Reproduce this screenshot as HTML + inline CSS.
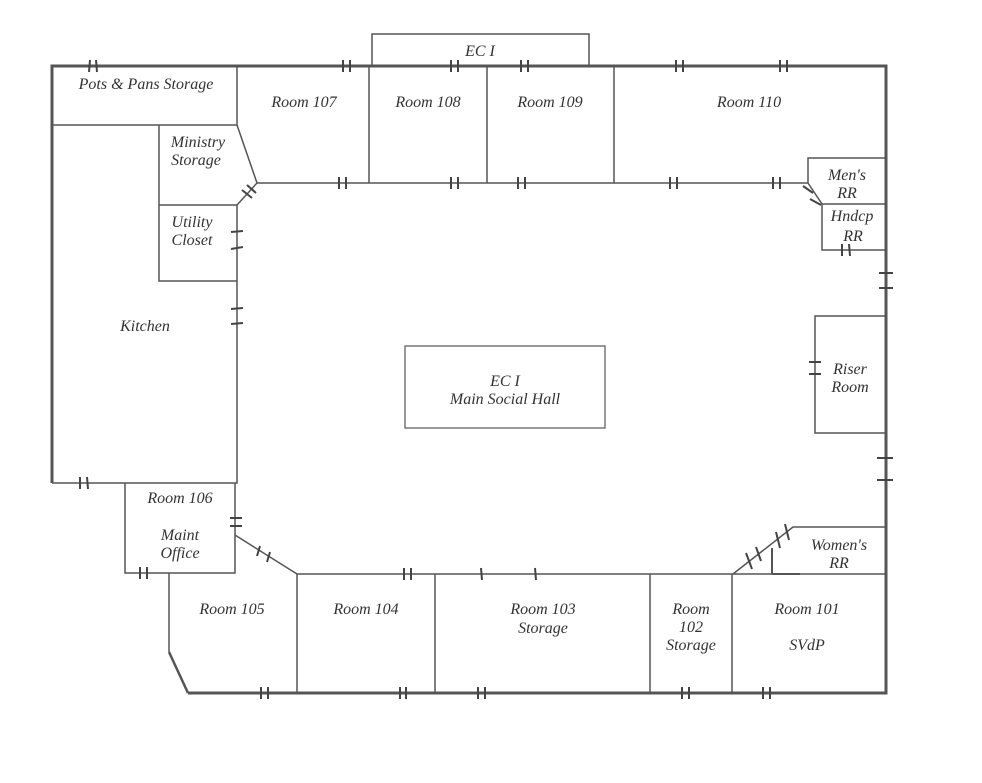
<!DOCTYPE html>
<html><head><style>
html,body{margin:0;padding:0;background:#fff;}
svg{display:block;}
text{font-family:"Liberation Serif",serif;font-style:italic;font-size:16px;fill:#333;text-anchor:middle;}
</style></head><body>
<svg width="982" height="783" viewBox="0 0 982 783" xmlns="http://www.w3.org/2000/svg">
<g stroke="#555" fill="none" stroke-width="1.5">
<path d="M52,483 L52,66 L886,66 L886,693 L188,693" stroke-width="3"/>
<path d="M188,693 L169,652" stroke-width="2.5"/>
<path d="M372,66 L372,34 L589,34 L589,66"/>
<path d="M52,125 L237,125 M237,66 L237,125 L257,183 L237,205 L237,483 L52,483"/>
<path d="M159,125 L159,281 L237,281 M159,205 L237,205"/>
<path d="M369,66 L369,183 M487,66 L487,183 M614,66 L614,183 M257,183 L808,183"/>
<path d="M808,183 L808,158 L886,158 M808,183 L822,204 L822,250 L886,250 M822,204 L886,204"/>
<path d="M886,316 L815,316 L815,433 L886,433"/>
<path d="M733,574 L793,527 L886,527 M733,574 L886,574"/>
<path d="M772,574 L772,548 M772,574 L800,574" stroke-width="2"/>
<path d="M125,483 L125,573 L235,573 L235,483 M235,535 L297,574 L733,574"/>
<path d="M169,573 L169,652"/>
<path d="M297,574 L297,693 M435,574 L435,693 M650,574 L650,693 M732,574 L732,693"/>
<rect x="405" y="346" width="200" height="82" stroke-width="1.2"/>
</g>
<g stroke="#444" stroke-width="2">
<path d="M90,60 L89,72 M96,60 L97,72"/>
<path d="M343,60 L343,72 M350,60 L350,72"/>
<path d="M451,60 L451,72 M458,60 L458,72"/>
<path d="M521,60 L521,72 M528,60 L528,72"/>
<path d="M676,60 L676,72 M683,60 L683,72"/>
<path d="M780,60 L780,72 M787,60 L787,72"/>
<path d="M339,177 L339,189 M346,177 L346,189"/>
<path d="M451,177 L451,189 M458,177 L458,189"/>
<path d="M518,177 L518,189 M525,177 L525,189"/>
<path d="M670,177 L670,189 M677,177 L677,189"/>
<path d="M773,177 L773,189 M780,177 L780,189"/>
<path d="M242,190 L252,198 M247,185 L256,193"/>
<path d="M231,232 L243,231 M231,249 L243,247"/>
<path d="M231,309 L243,308 M231,324 L243,323"/>
<path d="M80,477 L80,489 M87,477 L88,489"/>
<path d="M230,518 L242,518 M230,526 L242,526"/>
<path d="M260,546 L257,556 M270,552 L267,562"/>
<path d="M140,567 L140,579 M147,567 L147,579"/>
<path d="M404,568 L404,580 M411,568 L411,580"/>
<path d="M481,568 L482,580 M535,568 L536,580"/>
<path d="M261,687 L261,699 M268,687 L268,699"/>
<path d="M400,687 L400,699 M406,687 L406,699"/>
<path d="M478,687 L478,699 M485,687 L485,699"/>
<path d="M682,687 L682,699 M689,687 L689,699"/>
<path d="M763,687 L763,699 M770,687 L770,699"/>
<path d="M803,186 L813,193 M810,199 L821,205"/>
<path d="M842,244 L842,256 M849,244 L850,256"/>
<path d="M879,273 L893,273 M879,288 L893,288"/>
<path d="M809,362 L821,362 M809,374 L821,374"/>
<path d="M877,458 L893,458 M877,480 L893,480"/>
<path d="M746,553 L752,569 M756,547 L761,561 M776,532 L780,548 M785,524 L789,540"/>
</g>
<text x="146" y="89">Pots &amp; Pans Storage</text>
<text x="304" y="107">Room 107</text>
<text x="428" y="107">Room 108</text>
<text x="550" y="107">Room 109</text>
<text x="749" y="107">Room 110</text>
<text x="480" y="56">EC I</text>
<text x="198" y="147">Ministry</text>
<text x="196" y="165">Storage</text>
<text x="192" y="227">Utility</text>
<text x="192" y="245">Closet</text>
<text x="145" y="331">Kitchen</text>
<text x="847" y="180" font-size="14.5">Men's</text>
<text x="847" y="198" font-size="14.5">RR</text>
<text x="852" y="221" font-size="13.5">Hndcp</text>
<text x="853" y="241" font-size="14.5">RR</text>
<text x="850" y="374">Riser</text>
<text x="850" y="392">Room</text>
<text x="505" y="386">EC I</text>
<text x="505" y="404">Main Social Hall</text>
<text x="839" y="550">Women's</text>
<text x="839" y="568">RR</text>
<text x="180" y="503">Room 106</text>
<text x="180" y="540">Maint</text>
<text x="180" y="558">Office</text>
<text x="232" y="614">Room 105</text>
<text x="366" y="614">Room 104</text>
<text x="543" y="614">Room 103</text>
<text x="543" y="633">Storage</text>
<text x="691" y="614">Room</text>
<text x="691" y="632">102</text>
<text x="691" y="650">Storage</text>
<text x="807" y="614">Room 101</text>
<text x="807" y="650">SVdP</text>
</svg>
</body></html>
